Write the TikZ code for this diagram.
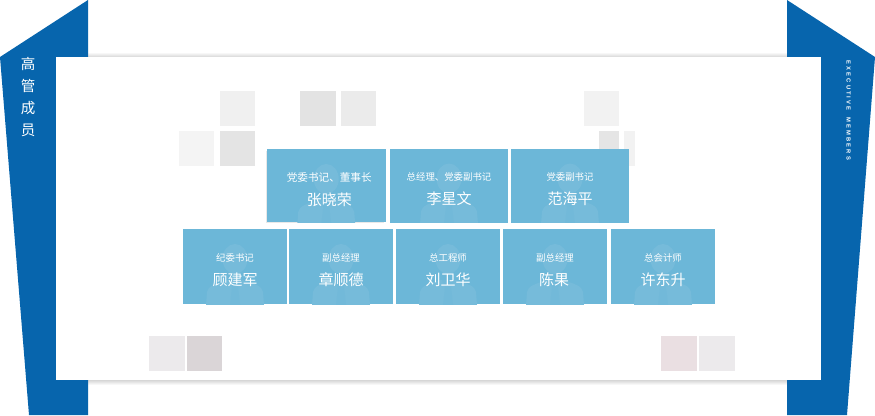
\documentclass[tikz,border=0pt]{standalone}
\usepackage{fontspec}
\setmainfont{Liberation Sans}
\newfontfamily\cjk{Noto Sans CJK SC}[Scale=1]
\newfontfamily\spaced{Liberation Sans}[LetterSpace=36]
\usetikzlibrary{calc}
\definecolor{bandblue}{HTML}{0765AD}
\definecolor{cardblue}{HTML}{6CB7D8}
\definecolor{figblue}{HTML}{76BBDA}
\definecolor{tieblue}{HTML}{72B9D9}
\tikzset{
  x=1pt,y=-1pt,
  band/.style={fill=bandblue,draw=none},
  sq/.style={draw=none,minimum width=35.5pt,minimum height=35pt,inner sep=0pt,anchor=north west},
  card/.style={fill=cardblue,draw=none,minimum width=#1,minimum height=75pt,inner sep=0pt,anchor=north west},
  card/.default=104pt,
  role/.style={font=\cjk\fontsize{9.4}{10}\selectfont,text=white,inner sep=0pt},
  rolewide/.style={font=\cjk\fontsize{10.6}{11}\selectfont,text=white,inner sep=0pt,xshift=3pt},
  who/.style={font=\cjk\fontsize{15}{16}\selectfont,text=white,inner sep=0pt},
}
\newcommand{\persona}[2]{%
  \fill[figblue] (#1,#2+30) circle[x radius=12.5pt,y radius=15pt];
  \fill[figblue] (#1-29,#2+76) -- (#1-28,#2+63) .. controls (#1-27,#2+57) and (#1-20,#2+55) .. (#1-8,#2+51)
     -- (#1+8,#2+51) .. controls (#1+20,#2+55) and (#1+27,#2+57) .. (#1+28,#2+63) -- (#1+29,#2+76) -- cycle;
  \fill[tieblue] (#1-6,#2+51) -- (#1+6,#2+51) -- (#1+3,#2+58) -- (#1+5,#2+76) -- (#1-5,#2+76) -- (#1-3,#2+58) -- cycle;
}
\newcommand{\cardat}[9]{% name x y w h rolestyle role person namexshift
  \node[card=#4,minimum height=#5] (#1) at (#2,#3) {};
  \begin{scope}\clip (#2,#3) rectangle ++(#4,#5);
  \persona{#2+#4/2}{#3}
  \end{scope}
  \node[#6] (#1r) at (#2+#4/2,#3+28.5) {#7};
  \node[who,xshift=#9] (#1n) at (#2+#4/2,#3+50.5) {#8};
}
\begin{document}
\begin{tikzpicture}
\useasboundingbox (0,0) rectangle (875,415);
\fill[white] (0,0) rectangle (875,415);
\shade[top color=white,bottom color=black!16,draw=none] (88,52) rectangle (787,57);
\shade[top color=black!16,bottom color=white,draw=none] (88,380) rectangle (787,385);
\path[band] (88,0) -- (0,57) -- (29,415) -- (88,415) -- cycle;
\path[band] (787,0) -- (875,57) -- (847,415) -- (787,415) -- cycle;
\node[fill=white,draw=none,inner sep=0pt,minimum width=765pt,minimum height=323.5pt,anchor=north west] (panel) at (56,56.5) {};
% squares
\node[sq,fill=black!6] (s1) at (219.5,91) {};
\node[sq,fill=black!11] (s2) at (300,91) {};
\node[sq,fill=black!8] (s3) at (340.5,91) {};
\node[sq,fill=black!5] (s4) at (583.5,91) {};
\node[sq,fill=black!4.5] (s5) at (178.5,131) {};
\node[sq,fill=black!10.5] (s6) at (219.5,131) {};
\node[sq,fill=black!10,minimum width=20pt] (s7) at (599,131) {};
\node[sq,fill=black!5,minimum width=11pt] (s8) at (624,131) {};
\node[sq,fill={rgb,255:red,236;green,234;blue,236}] (s9) at (149,336) {};
\node[sq,fill={rgb,255:red,218;green,213;blue,215}] (s10) at (186.5,336) {};
\node[sq,fill={rgb,255:red,234;green,223;blue,226}] (s11) at (661,336) {};
\node[sq,fill={rgb,255:red,236;green,234;blue,236}] (s12) at (699,336) {};
% cards
\fill[black!9] (266,151) rectangle (384,223);
\cardat{a}{267}{149}{118.5}{73}{rolewide}{党委书记、董事长}{张晓荣}{3pt}
\cardat{b}{390}{148.5}{118}{74}{role}{总经理、党委副书记}{李星文}{0pt}
\cardat{c}{511}{148.5}{118}{74}{role}{党委副书记}{范海平}{0pt}
\cardat{d}{183}{229}{104}{75}{role}{纪委书记}{顾建军}{0pt}
\cardat{e}{289}{229}{104}{75}{role}{副总经理}{章顺德}{0pt}
\cardat{f}{396}{229}{104}{75}{role}{总工程师}{刘卫华}{0pt}
\cardat{g}{503}{229}{104}{75}{role}{副总经理}{陈果}{-1pt}
\cardat{h}{611}{229}{104}{75}{role}{总会计师}{许东升}{0pt}
% titles
\node[font=\cjk\fontsize{14.5}{16}\selectfont,text=white,inner sep=0pt,align=center] (title) at (28,97) {高\\[6pt]管\\[6pt]成\\[6pt]员};
\node[font=\spaced\bfseries\fontsize{5.8}{7}\selectfont,text=white,rotate=-90,inner sep=0pt] (entitle) at (848.5,110.5) {EXECUTIVE\ \ MEMBERS};
\end{tikzpicture}
\end{document}
